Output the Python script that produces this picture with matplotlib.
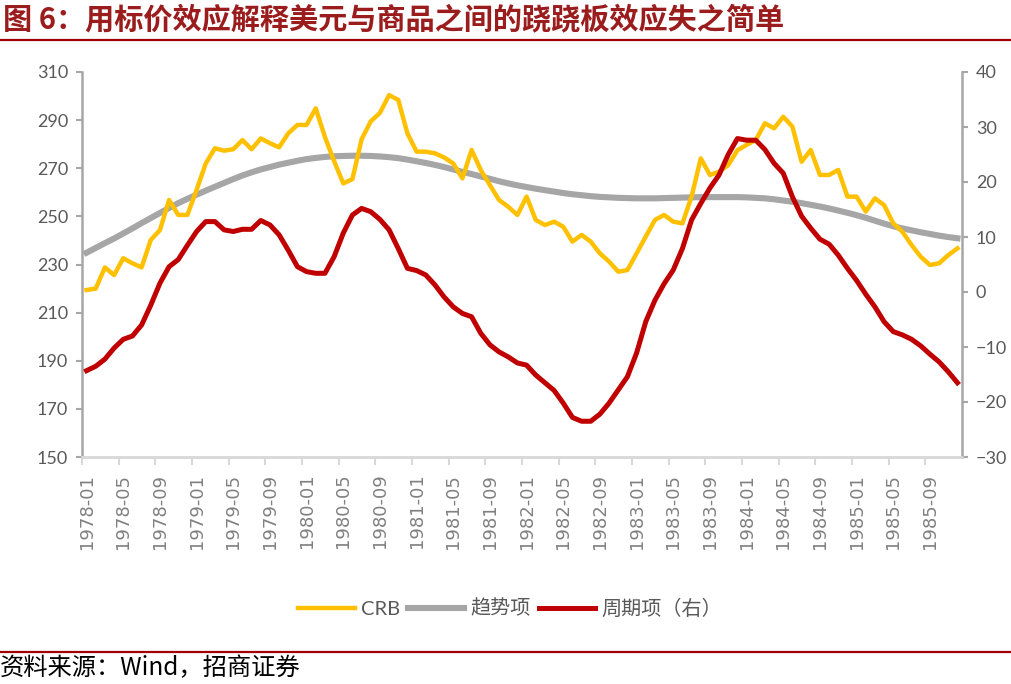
"""CRB vs trend / cycle decomposition, 1978-1985"""
import matplotlib
matplotlib.use("Agg")
from matplotlib import pyplot as plt
from matplotlib.lines import Line2D

# monthly categories 1978-01 .. 1985-12
months = [f"{y}-{m:02d}" for y in range(1978, 1986) for m in range(1, 13)]

crb = [219.4, 220.0, 228.8, 225.6, 232.6, 230.5, 228.8, 240.2, 244.3, 256.8,
       250.6, 250.6, 261.0, 272.0, 278.3, 277.3, 277.9, 281.7, 277.9, 282.4,
       280.4, 278.7, 284.5, 288.0, 288.0, 294.9, 283.0, 273.0, 263.7, 265.5,
       282.0, 289.5, 293.0, 300.4, 298.4, 284.5, 276.9, 276.9, 276.2, 274.5,
       272.0, 265.8, 277.6, 269.3, 263.0, 256.8, 254.0, 250.6, 258.2, 248.5,
       246.4, 247.8, 245.7, 239.5, 242.3, 239.5, 234.6, 231.2, 227.0, 227.7,
       234.6, 241.6, 248.5, 250.6, 247.8, 247.1, 258.2, 274.1, 267.2, 268.6,
       271.3, 277.5, 279.7, 281.7, 288.7, 286.6, 291.4, 287.3, 272.7, 277.6,
       267.2, 267.2, 269.3, 258.2, 258.2, 252.0, 257.5, 254.7, 247.1, 243.6,
       238.1, 233.2, 229.8, 230.5, 233.9, 236.7]

trend = [234.9, 236.9, 238.9, 240.8, 242.9, 245.0, 247.2, 249.3, 251.4, 253.5,
         255.5, 257.3, 259.0, 260.7, 262.3, 263.9, 265.5, 267.0, 268.3, 269.5,
         270.5, 271.5, 272.3, 273.1, 273.8, 274.3, 274.7, 275.0, 275.1, 275.2,
         275.2, 275.1, 274.9, 274.6, 274.2, 273.6, 272.9, 272.2, 271.4, 270.5,
         269.5, 268.5, 267.6, 266.6, 265.6, 264.6, 263.7, 262.9, 262.2, 261.5,
         260.9, 260.3, 259.7, 259.2, 258.8, 258.4, 258.1, 257.9, 257.7, 257.6,
         257.5, 257.5, 257.5, 257.6, 257.7, 257.8, 257.9, 258.0, 258.0, 258.0,
         258.0, 258.0, 257.9, 257.7, 257.5, 257.1, 256.6, 256.1, 255.5, 254.8,
         254.1, 253.3, 252.4, 251.5, 250.5, 249.4, 248.2, 247.0, 245.9, 245.0,
         244.2, 243.4, 242.7, 242.0, 241.4, 240.9]

cycle = [-14.3, -13.5, -12.2, -10.2, -8.6, -8.0, -6.0, -2.4, 1.6, 4.6,
         5.9, 8.5, 11.0, 12.8, 12.8, 11.3, 11.0, 11.4, 11.4, 13.0,
         12.2, 10.4, 7.6, 4.6, 3.7, 3.4, 3.4, 6.4, 10.7, 14.0,
         15.2, 14.6, 13.2, 11.3, 7.9, 4.3, 3.9, 3.1, 1.3, -0.9,
         -2.7, -3.9, -4.5, -7.5, -9.6, -10.9, -11.8, -12.9, -13.3, -15.1,
         -16.5, -17.9, -20.2, -22.8, -23.5, -23.5, -22.2, -20.2, -17.8, -15.4,
         -11.1, -5.4, -1.5, 1.5, 4.0, 7.9, 13.1, 16.1, 18.9, 21.3,
         25.0, 27.9, 27.6, 27.6, 25.9, 23.4, 21.6, 17.3, 13.8, 11.6,
         9.6, 8.7, 6.7, 4.3, 2.1, -0.4, -2.7, -5.4, -7.2, -7.8,
         -8.6, -9.8, -11.3, -12.7, -14.5, -16.5]

cjk = ['Noto Sans CJK SC', 'DejaVu Sans']
num_font = ['Lato', 'Noto Sans CJK SC']
tick_grey = '#595959'

fig = plt.figure(figsize=(10.11, 6.84), dpi=100)
ax = fig.add_axes([82 / 1011, 1 - 457 / 684, 880 / 1011, 385 / 684])
ax2 = ax.twinx()

x = list(range(len(months)))
l_crb, = ax.plot(x, crb, color='#FFC000', lw=3.2, label='CRB', zorder=3)
l_trend, = ax.plot(x, trend, color='#A6A6A6', lw=4.4, label='趋势项', zorder=2)
l_cyc, = ax2.plot(x, cycle, color='#C00000', lw=3.6, label='周期项（右）')

ax.set_xlim(-0.5, len(months) - 0.5)
ax.set_ylim(150, 310)
ax.set_yticks(range(150, 311, 20))
ax2.set_ylim(-30, 40)
ax2.set_yticks(range(-30, 41, 10))

# category axis: tick marks between categories, labels on categories
ax.set_xticks([i - 0.5 for i in range(0, len(months), 4)])
ax.set_xticklabels([])
ax.set_xticks(range(0, len(months), 4), minor=True)
ax.set_xticklabels(months[::4], minor=True, rotation=90, fontsize=13,
                   color='#808080', family='DejaVu Sans')
ax.tick_params(axis='x', which='major', length=6, width=1.5, color='#d9d9d9')
ax.tick_params(axis='x', which='minor', length=0, pad=12)

for a in (ax, ax2):
    a.spines['top'].set_visible(False)
    a.spines['bottom'].set_color('#d9d9d9')
    a.spines['bottom'].set_linewidth(1.8)
    a.spines['left'].set_color('#a6a6a6')
    a.spines['left'].set_linewidth(1.8)
    a.spines['right'].set_color('#a6a6a6')
    a.spines['right'].set_linewidth(1.8)
ax.spines['right'].set_visible(False)
ax2.spines['left'].set_visible(False)

ax.tick_params(axis='y', length=4, width=1.5, color='#a6a6a6', pad=6,
               labelsize=13, labelcolor=tick_grey)
ax2.tick_params(axis='y', length=4, width=1.5, color='#a6a6a6', pad=6,
                labelsize=13, labelcolor=tick_grey)
for lab in ax.get_yticklabels() + ax2.get_yticklabels():
    lab.set_family(num_font)

fig.legend(handles=[l_crb, l_trend, l_cyc], loc='center',
           bbox_to_anchor=(510 / 1011, 1 - 608 / 684), ncol=3, frameon=False,
           handlelength=2.8, handletextpad=0.3, columnspacing=0.4,
           prop={'family': num_font, 'size': 14.5}, labelcolor=tick_grey)

# title, rules and source
fig.text(3 / 1011, 1 - 19 / 684, '图 6：用标价效应解释美元与商品之间的跷跷板效应失之简单',
         family=cjk, fontsize=21, weight='bold', color='#9b1c1c',
         ha='left', va='center')
fig.add_artist(Line2D([0, 1], [1 - 40 / 684] * 2, transform=fig.transFigure,
                      color='#a00000', lw=1.6))
fig.add_artist(Line2D([0, 1], [1 - 652 / 684] * 2, transform=fig.transFigure,
                      color='#a00000', lw=1.6))
fig.text(0, 1 - 668 / 684, '资料来源：Wind，招商证券', family=cjk, fontsize=17.5,
         color='black', ha='left', va='center')

fig.savefig('out.png', dpi=100)
